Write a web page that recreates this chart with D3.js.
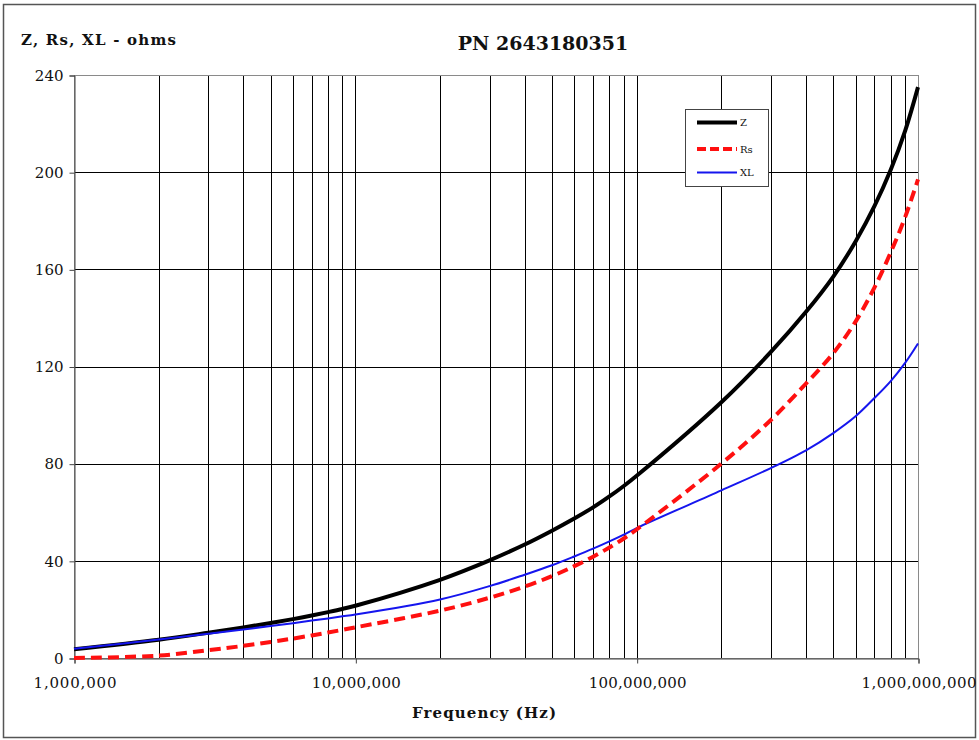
<!DOCTYPE html>
<html>
<head>
<meta charset="utf-8">
<script src="https://cdn.jsdelivr.net/npm/d3@7"></script>
<style>
  html, body { margin: 0; padding: 0; background: #fff; }
  svg { display: block; }
  text { font-family: "DejaVu Serif", "Liberation Serif", serif; fill: #111; }
</style>
</head>
<body>
<svg id="chart" width="979" height="740"></svg>
<script>
// ---- data ----
const freqs = [1e6,2e6,3e6,4e6,5e6,6e6,7e6,8e6,9e6,
               1e7,2e7,3e7,4e7,5e7,6e7,7e7,8e7,9e7,
               1e8,2e8,3e8,4e8,5e8,6e8,7e8,8e8,9e8,1e9];
const zValues  = [3.6,7.5,10.4,12.6,14.4,16.0,17.5,18.9,20.2,
                  21.5,32.2,40.2,46.7,52.4,57.4,62.0,66.5,70.8,
                  75,105.3,126,142.5,157,171.5,186,201,217,235];
const rsValues = [0.0,1.0,3.2,5.0,6.6,8.0,9.3,10.5,11.6,
                  12.6,19.5,24.8,29.4,33.7,37.8,41.7,45.5,49.2,
                  52.9,80,98,113,125.5,138.5,152.5,167,181.5,197];
const xlValues = [3.8,7.6,10.0,11.75,13.15,14.35,15.4,16.3,17.15,
                  17.9,24.1,29.6,34.3,38.2,41.8,45.0,48.0,50.8,
                  53.5,69,78.2,85.5,92.6,99.5,107,114,121.5,129.5];
const yTicks = [0,40,80,120,160,200,240];
const xMajorTicks = [1e6,1e7,1e8,1e9];
const xTickLabels = ["1,000,000","10,000,000","100,000,000","1,000,000,000"];
const seriesNames = ["Z","Rs","XL"];
const titleText = "PN 2643180351";
const yAxisTitle = "Z, Rs, XL - ohms";
const xAxisTitle = "Frequency (Hz)";

// ---- layout ----
const svg = d3.select("#chart");
const L = 74, R = 918, T = 75, B = 658;
const x = d3.scaleLog().domain([1e6,1e9]).range([L,R]);
const y = d3.scaleLinear().domain([0,240]).range([B,T]);
const px = v => Math.round(v) + 0.5;

// outer frame
svg.append("rect").attr("x",3.5).attr("y",4.5).attr("width",972).attr("height",733)
  .attr("fill","#fff").attr("stroke","#555").attr("stroke-width",1.5);

// grid verticals (1..9 per decade)
const minorTicks = x.ticks().filter(t => t > 1e6 && t < 1e9);
svg.append("g").selectAll("line").data(minorTicks).join("line")
  .attr("x1",d=>px(x(d))).attr("x2",d=>px(x(d)))
  .attr("y1",T).attr("y2",B)
  .attr("stroke","#000").attr("stroke-width",1);

// grid horizontals
svg.append("g").selectAll("line").data(yTicks.filter(t=>t>0 && t<240)).join("line")
  .attr("x1",L).attr("x2",R)
  .attr("y1",d=>px(y(d))).attr("y2",d=>px(y(d)))
  .attr("stroke","#000").attr("stroke-width",1);

// plot border
svg.append("rect").attr("x",px(L)).attr("y",px(T)).attr("width",Math.round(R)-Math.round(L)).attr("height",Math.round(B)-Math.round(T))
  .attr("fill","none").attr("stroke","#8a8a8a").attr("stroke-width",1);

// y axis
const yAxis = d3.axisLeft(y).tickValues(yTicks).tickSize(5).tickPadding(6);
const gy = svg.append("g").attr("transform",`translate(${px(L)},0.5)`).call(yAxis);
gy.select(".domain").attr("stroke","#444");
gy.selectAll(".tick line").attr("stroke","#444");
gy.selectAll("text").attr("font-size",15).attr("font-family","DejaVu Serif").attr("fill","#111");

// x axis
const xLabelWidths = [83,89,98,115];
const xAxis = d3.axisBottom(x).tickValues(xMajorTicks).tickSize(5).tickPadding(14)
  .tickFormat((d,i)=>xTickLabels[i]);
const gx = svg.append("g").attr("transform",`translate(0.5,${px(B)})`).call(xAxis);
gx.select(".domain").attr("stroke","#444");
gx.selectAll(".tick line").attr("stroke","#444");
gx.selectAll("text").attr("font-size",15).attr("font-family","DejaVu Serif").attr("fill","#111")
  .attr("textLength",(d,i)=>xLabelWidths[i]).attr("lengthAdjust","spacing");

// series
const line = vals => d3.line().x((d,i)=>x(freqs[i])).y(d=>y(d)).curve(d3.curveCatmullRom.alpha(0.5))(vals);
svg.append("path").attr("d",line(zValues)).attr("fill","none").attr("stroke","#000").attr("stroke-width",4);
svg.append("path").attr("d",line(xlValues)).attr("fill","none").attr("stroke","#1515ee").attr("stroke-width",2);
svg.append("path").attr("d",line(rsValues)).attr("fill","none").attr("stroke","#ff1010").attr("stroke-width",4)
  .attr("stroke-dasharray","11,6");

// legend
const lg = svg.append("g");
lg.append("rect").attr("x",685.5).attr("y",109.5).attr("width",83).attr("height",77)
  .attr("fill","#fff").attr("stroke","#444").attr("stroke-width",1);
const legendStyles = [
  {color:"#000", w:4, dash:null},
  {color:"#ff1010", w:4, dash:"9,4"},
  {color:"#1515ee", w:2, dash:null}
];
const legendY = [122.5,149,172.5];
seriesNames.forEach((name,i)=>{
  lg.append("line").attr("x1",697).attr("x2",737).attr("y1",legendY[i]).attr("y2",legendY[i])
    .attr("stroke",legendStyles[i].color).attr("stroke-width",legendStyles[i].w)
    .attr("stroke-dasharray",legendStyles[i].dash);
  lg.append("text").attr("x",740).attr("y",legendY[i]+3.5).attr("font-size",10).text(name);
});

// titles
svg.append("text").attr("x",543).attr("y",50).attr("text-anchor","middle")
  .attr("font-size",19).attr("font-weight","bold").text(titleText);
svg.append("text").attr("x",21).attr("y",45)
  .attr("font-size",15).attr("font-weight","bold")
  .attr("textLength",155).attr("lengthAdjust","spacing").text(yAxisTitle);
svg.append("text").attr("x",484).attr("y",718).attr("text-anchor","middle")
  .attr("font-size",15).attr("font-weight","bold")
  .attr("textLength",144).attr("lengthAdjust","spacing").text(xAxisTitle);
</script>
</body>
</html>
